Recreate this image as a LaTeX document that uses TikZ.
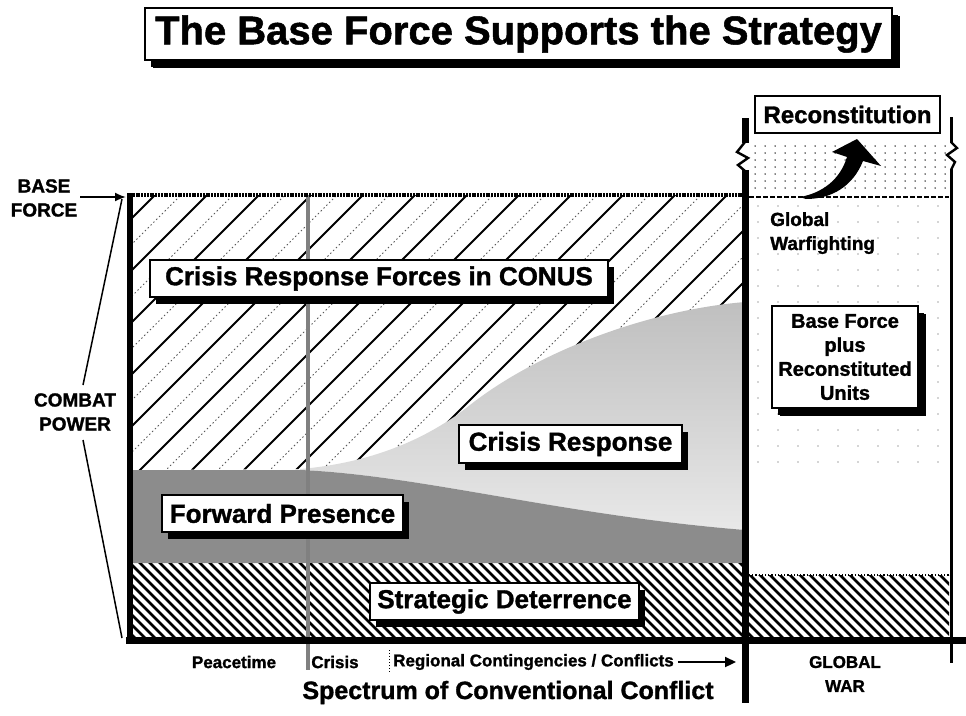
\documentclass[tikz,border=0pt]{standalone}
\usepackage{fontspec}
\setmainfont{Liberation Sans}[BoldFeatures={FakeBold=1.3}]
\usetikzlibrary{shadows,arrows.meta}
\tikzset{
  lbl/.style={draw=black, line width=1.6pt, fill=white, inner sep=0pt,
    font=\bfseries\fontsize{26}{28}\selectfont,
    drop shadow={shadow xshift=6pt, shadow yshift=-7pt, fill=black, opacity=1}},
  axislbl/.style={font=\bfseries\fontsize{17}{21}\selectfont, inner sep=0pt},
  sidelbl/.style={font=\bfseries\fontsize{19}{24}\selectfont, align=center, inner sep=0pt},
  hatchsolid/.style={line width=1.8pt},
  hatchdot/.style={line width=0.8pt, dash pattern=on 1.5pt off 2.5pt, black!65},
  sdhatch/.style={line width=2.8pt},
  thickbar/.style={line width=7pt},
  zig/.style={line width=2.4pt, line join=miter},
}
\begin{document}
\begin{tikzpicture}[x=1pt,y=-1pt]
\useasboundingbox (0,0) rectangle (966,715);
\fill[white] (0,0) rectangle (966,715);

% ---- Crisis response region (light halftone)
\shade[top color=black!25, bottom color=black!9]
  (745,302) .. controls (650,310) and (540,350) .. (470,405)
  .. controls (420,445) and (360,464) .. (300,469)
  -- (300,470) .. controls (420,475) and (560,515) .. (745,530) -- cycle;

% ---- Crisis Response Forces in CONUS hatching
\begin{scope}
  \clip (130,195) -- (745,195) -- (745,302)
    .. controls (650,310) and (540,350) .. (470,405)
    .. controls (420,445) and (360,464) .. (300,469)
    -- (130,470) -- cycle;
  \foreach \i in {-7,...,12} {
    \draw[hatchsolid] (130+\i*52,480) -- ++(300,-300);
    \draw[hatchdot] (156+\i*52,480) -- ++(300,-300);
  }
\end{scope}

% ---- Forward presence band
\fill[black!45] (130,470) -- (300,470)
  .. controls (420,475) and (560,515) .. (745,530) -- (745,563) -- (130,563) -- cycle;

% ---- Strategic deterrence hatching
\begin{scope}
  \clip (130,563) rectangle (742,637);
  \foreach \i in {0,...,70} { \draw[sdhatch] (40+\i*10,553) -- ++(90,90); }
\end{scope}
\begin{scope}
  \clip (749,575) rectangle (949,637);
  \foreach \i in {0,...,30} { \draw[sdhatch] (640+\i*10,565) -- ++(80,80); }
\end{scope}
\draw[line width=1.2pt, dotted] (749,575) -- (949,575);

% ---- Global war region dots
\foreach \x in {755,765,...,945} { \foreach \y in {146,153,...,190} { \fill (\x,\y) circle (0.75); } }
\foreach \x in {758,778,...,938} { \foreach \y in {206,222,...,470} { \fill[black!70] (\x,\y) circle (0.6); } }
\draw[line width=1.3pt, dash pattern=on 5pt off 2pt] (749,197) -- (949,197);

% ---- Peacetime / crisis divider
\draw[line width=4.5pt, black!50] (308,195) -- (308,670);
\draw[line width=1pt, dotted] (389,650) -- (389,672);

% ---- Axes and frame
\draw[line width=4pt, dash pattern=on 2pt off 0.8pt] (130,195) -- (745,195);
\draw[line width=6pt] (130,193) -- (130,643);
\draw[line width=7pt] (126,640) -- (966,640);
\draw[thickbar] (745,118) -- (745,143);
\draw[zig] (745,142) -- (737,152) -- (748,158) -- (738,165) -- (745,171);
\draw[thickbar] (745,170) -- (745,703);
\draw[line width=3pt] (951,117) -- (951,143);
\draw[zig] (951,142) -- (957,148) -- (947,155) -- (955,162) -- (951,170);
\draw[line width=3pt] (951,169) -- (951,663);

% ---- Title
\node[lbl, font=\bfseries\fontsize{40}{44}\selectfont, minimum width=747pt, minimum height=52pt,
  drop shadow={shadow xshift=8pt, shadow yshift=-8pt, fill=black, opacity=1}]
  (title) at (518.5,34) {The Base Force Supports the Strategy};

% ---- Region labels
\node[lbl, minimum width=458pt, minimum height=37pt] (conus) at (379,278.5) {Crisis Response Forces in CONUS};
\node[lbl, minimum width=223pt, minimum height=38pt] (crisisresp) at (570.5,444) {Crisis Response};
\node[lbl, minimum width=241pt, minimum height=37pt] (fwd) at (282.5,513.5) {Forward Presence};
\node[lbl, minimum width=269pt, minimum height=37pt] (strat) at (504.5,601.5) {Strategic Deterrence};
\node[lbl, font=\bfseries\fontsize{20}{24}\selectfont, align=center, minimum width=146pt, minimum height=102pt,
  drop shadow={shadow xshift=8pt, shadow yshift=-8pt, fill=black, opacity=1}]
  (plus) at (845,357) {Base Force\\plus\\Reconstituted\\Units};
\node[draw=black, line width=1.8pt, fill=white, inner sep=0pt, minimum width=185pt, minimum height=37pt,
  font=\bfseries\fontsize{24}{26}\selectfont] (recon) at (847.5,114.5) {Reconstitution};
\node[sidelbl, align=left, anchor=north west] (gw) at (770,212) {Global\\Warfighting};

% ---- Reconstitution arrow
\fill (800,197) .. controls (822,193) and (840,180) .. (847,157)
  -- (832,152) -- (857,139) -- (881,166) -- (863,161)
  .. controls (853,186) and (832,199) .. (806,199) -- cycle;

% ---- Left side labels
\node[sidelbl] (bf) at (44,198) {BASE\\FORCE};
\node[sidelbl] (cp) at (75,412) {COMBAT\\POWER};
\coordinate (bftail) at (80,197);
\coordinate (bftip) at (126,197);
\coordinate (cptop) at (83,385);
\coordinate (cpbot) at (83,440);
\coordinate (axtop) at (122,199);
\coordinate (axbot) at (122,638);
\draw[line width=1.8pt, -{Latex[length=11pt,width=9pt]}] (bftail) -- (bftip);
\draw[line width=1.5pt] (cptop) -- (axtop);
\draw[line width=1.5pt] (cpbot) -- (axbot);

% ---- Bottom labels
\node[axislbl] (peace) at (234,662) {Peacetime};
\node[axislbl] (crisis) at (335,662) {Crisis};
\node[axislbl, anchor=west] (regional) at (393,662) {Regional Contingencies / Conflicts};
\coordinate (regend) at (736,662);
\draw[line width=2.2pt, -{Triangle[length=11pt,width=10pt]}] ([xshift=4pt]regional.east) -- (regend);
\node[axislbl, align=center, font=\bfseries\fontsize{17}{24}\selectfont] (gwar) at (845,674) {GLOBAL\\WAR};
\node[font=\bfseries\fontsize{25}{27}\selectfont, inner sep=0pt, anchor=base] (spectrum) at (508,699) {Spectrum of Conventional Conflict};
\end{tikzpicture}
\end{document}
